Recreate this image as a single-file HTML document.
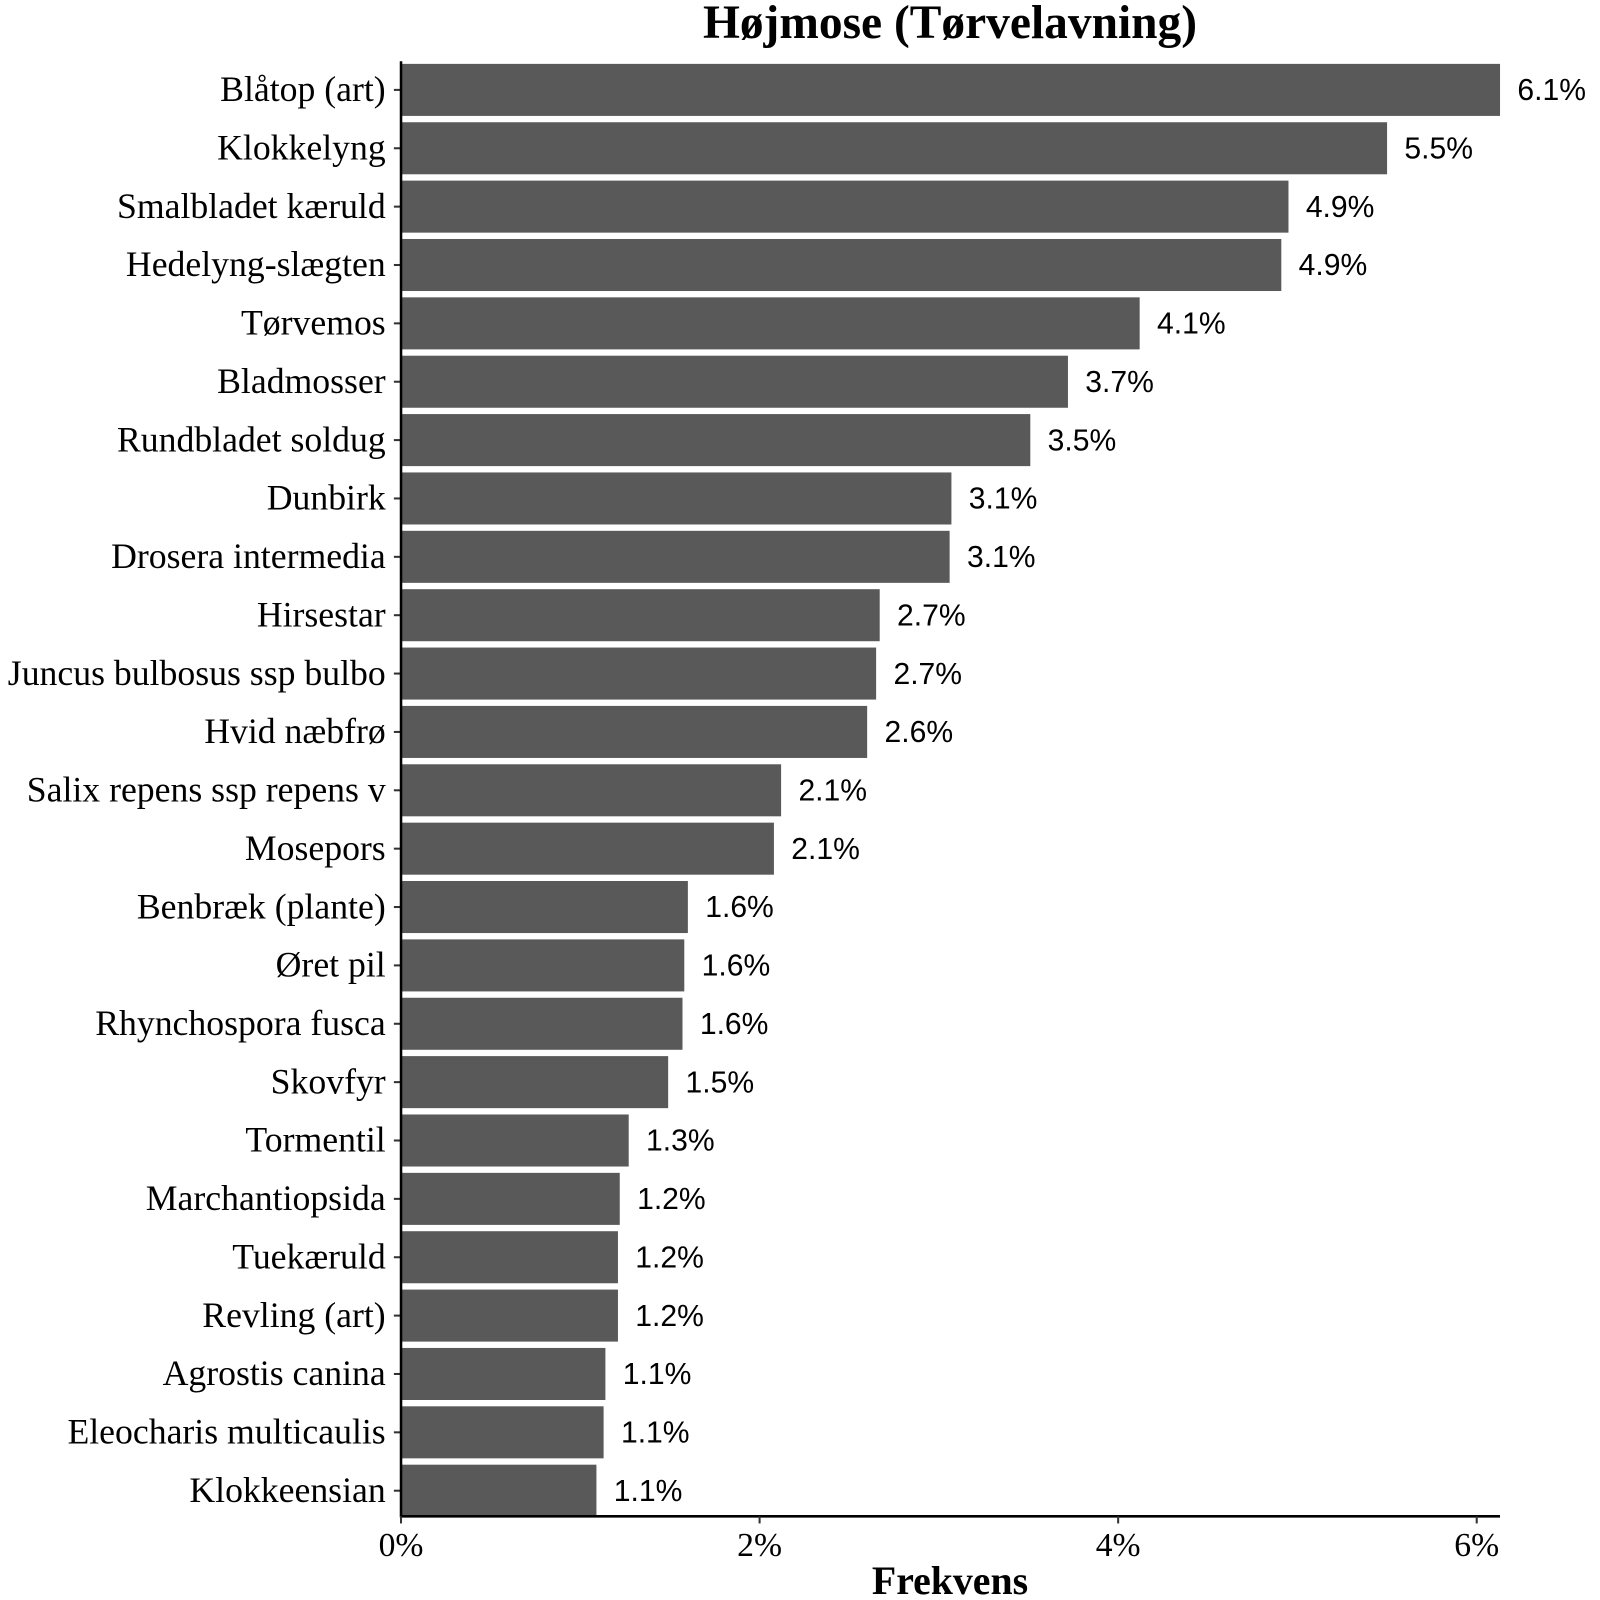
<!DOCTYPE html>
<html><head><meta charset="utf-8"><style>
html,body{margin:0;padding:0;background:#fff}
svg{display:block}
</style></head><body>
<svg id="chart" width="1600" height="1600" viewBox="0 0 1600 1600">
<g transform="scale(1.0204)">
<text x="931" y="37" text-anchor="middle" font-family="Liberation Serif, serif" font-weight="bold" font-size="46.5" fill="#000">Højmose (Tørvelavning)</text>
<g id="bars"></g>
<g id="yaxis"></g>
<g id="xaxis"></g>
<text x="931" y="1562" text-anchor="middle" font-family="Liberation Serif, serif" font-weight="bold" font-size="39" fill="#000">Frekvens</text>
</g>
</svg>
<script>
const categories = ["Blåtop (art)","Klokkelyng","Smalbladet kæruld","Hedelyng-slægten","Tørvemos","Bladmosser","Rundbladet soldug","Dunbirk","Drosera intermedia","Hirsestar","Juncus bulbosus ssp bulbo","Hvid næbfrø","Salix repens ssp repens v","Mosepors","Benbræk (plante)","Øret pil","Rhynchospora fusca","Skovfyr","Tormentil","Marchantiopsida","Tuekæruld","Revling (art)","Agrostis canina","Eleocharis multicaulis","Klokkeensian"];
const values = [6.13,5.50,4.95,4.91,4.12,3.72,3.51,3.07,3.06,2.67,2.65,2.60,2.12,2.08,1.60,1.58,1.57,1.49,1.27,1.22,1.21,1.21,1.14,1.13,1.09];
const valueLabels = ["6.1%","5.5%","4.9%","4.9%","4.1%","3.7%","3.5%","3.1%","3.1%","2.7%","2.7%","2.6%","2.1%","2.1%","1.6%","1.6%","1.6%","1.5%","1.3%","1.2%","1.2%","1.2%","1.1%","1.1%","1.1%"];
const xTicks = [0,2,4,6];
const xTickLabels = ["0%","2%","4%","6%"];

const NS="http://www.w3.org/2000/svg";
const x0=393, pxPer=175.7, yTop=59.5, step=57.2, barH=51;
const xScale=v=>x0+v*pxPer;
const yScale=i=>yTop+i*step+step/2;
function mk(tag,attrs,parent){const e=document.createElementNS(NS,tag);for(const k in attrs)e.setAttribute(k,attrs[k]);parent.appendChild(e);return e;}
const gb=document.getElementById('bars'), gy=document.getElementById('yaxis'), gx=document.getElementById('xaxis');
categories.forEach((c,i)=>{
  const cy=yScale(i);
  const r=mk('rect',{x:x0,y:cy-barH/2,width:xScale(values[i])-x0,height:barH,fill:'#595959'},gb);
  
  
  const t=mk('text',{x:xScale(values[i])+17,y:cy+10,'font-family':'Liberation Sans, sans-serif','font-size':'29.5',fill:'#000'},gb);
  t.textContent=valueLabels[i];
  
  
  const l=mk('text',{x:378,y:cy+11,'text-anchor':'end','font-family':'Liberation Serif, serif','font-size':'35',fill:'#000'},gy);
  l.textContent=c;
  
  
  const tk=mk('line',{x1:386,x2:393,y1:cy,y2:cy,stroke:'#333','stroke-width':2},gy);
  
  
});
const ya=mk('line',{x1:393,x2:393,y1:60,y2:1487,stroke:'#000','stroke-width':2.5},gy);


const xa=mk('line',{x1:392,x2:1470,y1:1486,y2:1486,stroke:'#000','stroke-width':2.5},gx);


xTicks.forEach((v,i)=>{
  const tk=mk('line',{x1:xScale(v),x2:xScale(v),y1:1486,y2:1493,stroke:'#333','stroke-width':2},gx);
  
  
  const t=mk('text',{x:xScale(v),y:1525,'text-anchor':'middle','font-family':'Liberation Serif, serif','font-size':'33',fill:'#000'},gx);
  t.textContent=xTickLabels[i];
  
  
});
</script>
</body></html>
